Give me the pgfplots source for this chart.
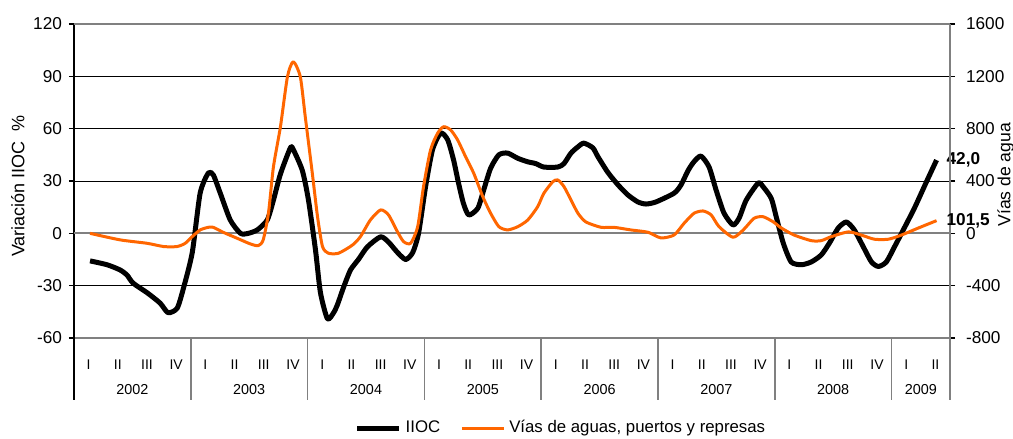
\documentclass[border=0pt]{standalone}
\usepackage{fontspec}
\setmainfont{Liberation Sans}
\usepackage{pgfplots}
\pgfplotsset{compat=1.18}
\definecolor{naranja}{HTML}{FF6600}
\definecolor{gris}{HTML}{808080}

\begin{document}
\begin{tikzpicture}
\path[use as bounding box] (-37pt,-50.5pt) rectangle (469.5pt,169pt);
\begin{axis}[
  at={(0,0)}, anchor=south west,
  scale only axis, width=438pt, height=157pt,
  xmin=0, xmax=30, ymin=-60, ymax=120,
  axis y line*=left, axis x line*=bottom,
  y axis line style={black, line width=0.8pt, -},
  x axis line style={gris, line width=0.8pt, -},
  ytick={-60,-30,...,120}, yticklabels={-60,-30,0,30,60,90,120},
  yticklabel style={font=\fontsize{8.6}{10}\selectfont},
  tick align=outside, major tick length=2.5pt,
  ytick style={black, line width=0.6pt},
  xtick={0.5,1.5,...,29.5},
  xticklabels={I,II,III,IV,I,II,III,IV,I,II,III,IV,I,II,III,IV,I,II,III,IV,I,II,III,IV,I,II,III,IV,I,II},
  xtick style={draw=none},
  xticklabel style={font=\fontsize{7}{8}\selectfont, anchor=base, yshift=-13.5pt},
  ymajorgrids, grid style={black, line width=0.4pt},
  clip=false,
  ylabel={Variación IIOC\ \ \%},
  ylabel style={font=\fontsize{9}{10}\selectfont, at={(axis description cs:-0.064,0.484)}, anchor=center},
]
\draw[gris, line width=1pt] (axis cs:0,0) -- (axis cs:30,0);
\draw[gris, line width=1pt] (axis cs:0,120) -- (axis cs:30,120);
\draw[black, line width=0.8pt] (axis cs:0,-60) -- (axis cs:0,-95.5);
\pgfplotsinvokeforeach{4,8,12,16,20,24,28}{\draw[gris, line width=0.8pt] (axis cs:#1,-60) -- (axis cs:#1,-95.5);}
\node[anchor=base, font=\fontsize{7.2}{8}\selectfont, yshift=-28.5pt] at (axis cs:2,-60) {2002};
\node[anchor=base, font=\fontsize{7.2}{8}\selectfont, yshift=-28.5pt] at (axis cs:6,-60) {2003};
\node[anchor=base, font=\fontsize{7.2}{8}\selectfont, yshift=-28.5pt] at (axis cs:10,-60) {2004};
\node[anchor=base, font=\fontsize{7.2}{8}\selectfont, yshift=-28.5pt] at (axis cs:14,-60) {2005};
\node[anchor=base, font=\fontsize{7.2}{8}\selectfont, yshift=-28.5pt] at (axis cs:18,-60) {2006};
\node[anchor=base, font=\fontsize{7.2}{8}\selectfont, yshift=-28.5pt] at (axis cs:22,-60) {2007};
\node[anchor=base, font=\fontsize{7.2}{8}\selectfont, yshift=-28.5pt] at (axis cs:26,-60) {2008};
\node[anchor=base, font=\fontsize{7.2}{8}\selectfont, yshift=-28.5pt] at (axis cs:29,-60) {2009};
\addplot[black, line width=2.5pt, smooth, tension=0.4, line join=round] coordinates {
(0.55,-15.8) (1.13,-18) (1.58,-21) (1.82,-24) (2.02,-28.5) (2.50,-34) (2.95,-40) (3.22,-45.5)
(3.53,-43) (3.74,-32) (4.05,-11) (4.32,23) (4.60,34.6) (4.77,33.5) (5.01,23) (5.35,7.7)
(5.70,0) (5.97,0) (6.28,2) (6.62,7.7) (6.83,19) (7.07,34) (7.41,49) (7.51,48) (7.82,36)
(8.03,19) (8.27,-9.5) (8.44,-34) (8.68,-49) (8.89,-45.5) (9.02,-41) (9.23,-31) (9.47,-21)
(9.74,-15) (10.05,-7.7) (10.50,-2) (10.77,-5) (11.08,-11) (11.36,-15) (11.60,-11) (11.80,0)
(12.04,26.7) (12.28,48) (12.56,57.5) (12.80,53.5) (13.00,42) (13.17,28.7) (13.34,17)
(13.52,10.5) (13.83,14.4) (14.03,24.8) (14.27,37.4) (14.55,45) (14.85,46) (15.20,43)
(15.54,41) (15.81,40) (16.09,38) (16.57,38) (16.78,40) (17.02,46) (17.26,49.6) (17.46,51.7)
(17.77,49) (17.94,44) (18.28,35) (18.63,27.8) (18.97,22) (19.31,18) (19.59,16.8) (19.93,18)
(20.55,23) (20.79,27.8) (21.03,36) (21.23,41) (21.47,44.3) (21.75,38) (21.99,24.8)
(22.26,11.6) (22.57,4.8) (22.78,8.8) (23.02,19) (23.43,28.8) (23.60,26.7) (23.88,20)
(24.05,9.4) (24.29,-5.6) (24.56,-16.4) (24.91,-18) (25.25,-16.4) (25.59,-12.4) (25.87,-5.6)
(26.17,3) (26.45,6.5) (26.72,2) (27.03,-7.7) (27.31,-16.4) (27.55,-19) (27.82,-16.4)
(28.10,-7.7) (28.34,0) (28.78,14.4) (29.19,29.4) (29.54,42)
};
\node[anchor=west, font=\bfseries\fontsize{8.6}{10}\selectfont, xshift=1.5pt] at (axis cs:29.54,42) {42,0};
\end{axis}

\begin{axis}[
  at={(0,0)}, anchor=south west,
  scale only axis, width=438pt, height=157pt,
  xmin=0, xmax=30, ymin=-800, ymax=1600,
  axis y line*=right, axis x line=none,
  y axis line style={gris, line width=0.8pt, -},
  ytick={-800,-400,...,1600}, yticklabels={-800,-400,0,400,800,1200,1600},
  yticklabel style={font=\fontsize{8.6}{10}\selectfont, anchor=west, xshift=2pt},
  tick align=outside, major tick length=2.5pt,
  ytick style={black, line width=0.6pt},
  clip=false,
  legend style={at={(0.557,-0.287)}, anchor=center, draw=none, fill=none,
    font=\fontsize{8.4}{10}\selectfont, legend columns=2,
    /tikz/every even column/.append style={column sep=8pt}},
  legend image code/.code={\draw[#1] (0pt,0pt) -- (21pt,0pt);},
]
\draw[gris, line width=0.8pt] (axis cs:30,-800) -- (axis cs:30,-1274);
\node[rotate=90, font=\fontsize{8.8}{10}\selectfont] at (axis description cs:1.0635,0.52) {Vías de agua};
\addlegendimage{black, line width=2.5pt}
\addlegendentry{IIOC}
\addplot[naranja, line width=1.5pt, smooth, tension=0.4, line join=round] coordinates {
(0.55,0) (1.58,-50) (2.50,-76) (3.07,-101) (3.53,-101) (3.81,-76) (4.05,-25) (4.32,26)
(4.60,46) (4.77,46) (5.11,8) (5.59,-38) (6.04,-81) (6.31,-94) (6.48,-50) (6.66,155)
(6.83,508) (7.07,815) (7.31,1197) (7.51,1312) (7.75,1197) (7.92,891) (8.16,462) (8.34,127)
(8.51,-101) (8.71,-152) (9.06,-152) (9.54,-89) (9.81,-25) (10.15,102) (10.50,179) (10.77,141)
(11.08,11) (11.29,-64) (11.53,-76) (11.77,51) (11.97,357) (12.21,637) (12.45,764) (12.66,815)
(12.90,790) (13.14,713) (13.41,586) (13.69,459) (14.00,280) (14.27,153) (14.55,51) (14.85,26)
(15.20,51) (15.54,102) (15.88,204) (16.09,306) (16.40,395) (16.57,408) (16.78,357) (17.02,255)
(17.26,153) (17.53,87) (18.05,46) (18.49,46) (19.07,26) (19.66,8) (20.10,-35) (20.55,-13)
(20.89,76) (21.23,153) (21.54,171) (21.82,141) (22.09,51) (22.57,-30) (22.92,26) (23.29,115)
(23.60,127) (23.95,87) (24.22,41) (24.66,-13) (25.25,-56) (25.59,-56) (25.94,-25) (26.52,11)
(26.96,-13) (27.41,-45) (27.89,-45) (28.34,-13) (28.92,41) (29.54,97)
};
\addlegendentry{Vías de aguas, puertos y represas}
\node[anchor=west, font=\bfseries\fontsize{8.6}{10}\selectfont, xshift=1.5pt] at (axis cs:29.54,97) {101,5};
\end{axis}
\end{tikzpicture}
\end{document}
